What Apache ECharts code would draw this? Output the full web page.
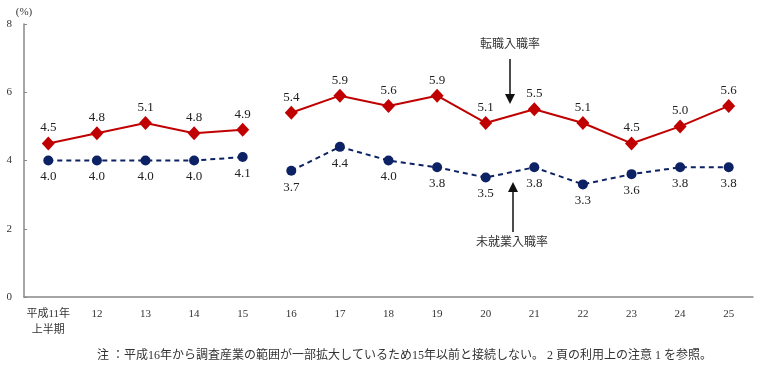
<!DOCTYPE html>
<html>
<head>
<meta charset="utf-8">
<script src="https://cdn.jsdelivr.net/npm/echarts@6/dist/echarts.min.js"></script>
<style>
  html, body { margin: 0; padding: 0; background: #fff; }
  #chart { width: 760px; height: 375px; }
</style>
</head>
<body>
<div id="chart"></div>
<script>
const years = ['平成11年\n上半期', '12', '13', '14', '15', '16', '17', '18', '19', '20', '21', '22', '23', '24', '25']

// 転職入職率 (15年以前 / 16年以降 は接続しない)
const tenshokuOld = [4.5, 4.8, 5.1, 4.8, 4.9]
const tenshokuNew = [5.4, 5.9, 5.6, 5.9, 5.1, 5.5, 5.1, 4.5, 5.0, 5.6]
// 未就業入職率
const mishugyoOld = [4.0, 4.0, 4.0, 4.0, 4.1]
const mishugyoNew = [3.7, 4.4, 4.0, 3.8, 3.5, 3.8, 3.3, 3.6, 3.8, 3.8]

const yTicks = [0, 2, 4, 6, 8]

const serif = "'Liberation Serif', 'Noto Sans CJK JP', serif"
const red = '#c00000'
const navy = '#0c2264'

function oldPart(arr) {
  return arr.concat(new Array(years.length - arr.length).fill(null))
}
function newPart(arr) {
  return new Array(years.length - arr.length).fill(null).concat(arr)
}

function redSeries(name, data) {
  return {
    name: name,
    type: 'line',
    data: data,
    symbol: 'diamond',
    symbolSize: [13, 14],
    lineStyle: { color: red, width: 2 },
    itemStyle: { color: red },
    label: {
      show: true,
      position: 'top',
      distance: 2,
      fontFamily: serif,
      fontSize: 13,
      color: '#222',
      formatter: p => p.value.toFixed(1)
    },
    animation: false
  }
}

function navySeries(name, data) {
  return {
    name: name,
    type: 'line',
    data: data,
    symbol: 'circle',
    symbolSize: 10,
    lineStyle: { color: navy, width: 2, type: [5, 4] },
    itemStyle: { color: navy },
    label: {
      show: true,
      position: 'bottom',
      distance: 5,
      fontFamily: serif,
      fontSize: 13,
      color: '#222',
      formatter: p => p.value.toFixed(1)
    },
    animation: false
  }
}

const chart = echarts.init(document.getElementById('chart'))

chart.setOption({
  backgroundColor: '#fff',
  grid: { left: 24, right: 7, top: 24, bottom: 78 },
  xAxis: {
    type: 'category',
    data: years,
    boundaryGap: true,
    axisLine: { lineStyle: { color: '#888', width: 1.5 } },
    axisTick: { show: false },
    axisLabel: {
      fontFamily: serif,
      fontSize: 11,
      color: '#333',
      margin: 9,
      lineHeight: 16,
      interval: 0
    }
  },
  yAxis: {
    type: 'value',
    min: yTicks[0],
    max: yTicks[yTicks.length - 1],
    interval: 2,
    name: '(%)',
    nameLocation: 'end',
    nameGap: 6,
    nameTextStyle: { fontFamily: serif, fontSize: 11, color: '#333', align: 'center' },
    splitLine: { show: false },
    axisLine: { show: true, lineStyle: { color: '#888', width: 1.5 } },
    axisTick: { show: true, inside: true, length: 3, lineStyle: { color: '#888' } },
    axisLabel: { fontFamily: serif, fontSize: 11, color: '#333', margin: 12 }
  },
  series: [
    redSeries('転職入職率', oldPart(tenshokuOld)),
    redSeries('転職入職率 ', newPart(tenshokuNew)),
    navySeries('未就業入職率', oldPart(mishugyoOld)),
    navySeries('未就業入職率 ', newPart(mishugyoNew))
  ],
  graphic: [
    {
      type: 'text',
      left: 480, top: 39,
      style: { text: '転職入職率', fontFamily: serif, fontSize: 12, fill: '#333' }
    },
    {
      type: 'line',
      shape: { x1: 510, y1: 59, x2: 510, y2: 96 },
      style: { stroke: '#111', lineWidth: 1.5 }
    },
    {
      type: 'polygon',
      shape: { points: [[505, 94], [515, 94], [510, 104]] },
      style: { fill: '#111' }
    },
    {
      type: 'text',
      left: 476, top: 237,
      style: { text: '未就業入職率', fontFamily: serif, fontSize: 12, fill: '#333' }
    },
    {
      type: 'line',
      shape: { x1: 513, y1: 190, x2: 513, y2: 232 },
      style: { stroke: '#111', lineWidth: 1.5 }
    },
    {
      type: 'polygon',
      shape: { points: [[508, 192], [518, 192], [513, 182]] },
      style: { fill: '#111' }
    },
    {
      type: 'text',
      left: 97, top: 350,
      style: {
        text: '注 ：平成16年から調査産業の範囲が一部拡大しているため15年以前と接続しない。 2 頁の利用上の注意 1 を参照。',
        fontFamily: serif, fontSize: 12, fill: '#333'
      }
    }
  ]
})
</script>
</body>
</html>
